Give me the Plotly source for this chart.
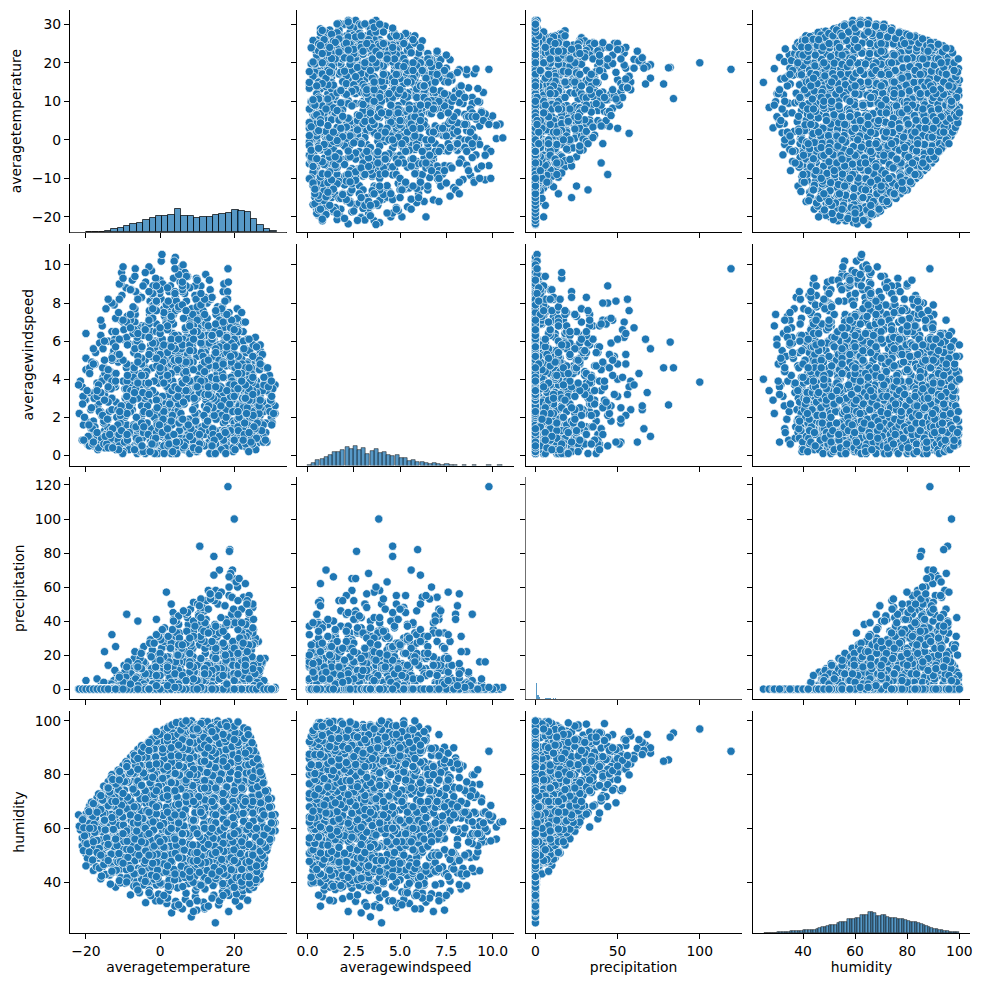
import plotly.graph_objects as go

# values, one line per humidity band (outliers in the middle block)
temperature = [
    14.9,8.4,3.1,18.5,12,5.5,21.4,15.8,1.8,9.9,
    -3.9,-1.2,1.5,4.2,6.8,9.5,11.7,14.2,16.4,18.6,20.3,22.1,23.6,-2.5,
    -8,-5.6,-2.9,-0.4,2.2,4.7,7,9.6,12.1,14.5,16.8,18.7,20.6,22.4,24.1,25.2,
    -12,-9.5,-7,-4.6,-2.1,0.3,2.8,5.1,7.6,9.9,12.4,14.7,17,19.1,21,22.8,24.6,26,
    -16,-13.6,-11.3,-9,-6.7,-4.4,-2.1,0.2,2.5,4.8,7.1,9.4,11.7,14,16.3,18.6,20.9,23.2,25.3,27,
    -18,-15.4,-13,-10.6,-8.2,-5.9,-3.5,-1.1,1.3,3.6,6,8.4,10.8,13.2,15.5,17.9,20.2,22.6,24.9,27,
    -19,-16.5,-14,-11.7,-9.2,-6.8,-4.3,-2,0.5,2.9,5.4,7.8,10.2,12.7,15.1,17.4,19.9,22.3,25,28,
    -20,-17.6,-15,-12.4,-9.9,-7.5,-5,-2.6,-0.1,2.4,4.8,7.3,9.7,12.2,14.6,17.1,19.5,22,25,28,
    -21,-18.4,-15.8,-13,-10.4,-7.9,-5.3,-2.7,-0.2,2.3,4.9,7.4,10,12.5,15,17.6,20.1,22.7,25.7,29,
    -21,-18.3,-15.6,-13,-10.3,-7.6,-4.9,-2.3,0.4,3.1,5.8,8.4,11,13.7,16.4,19,21.7,24.3,27,30,
    -21.5,-18.7,-16,-13.3,-10.6,-7.8,-5.1,-2.4,0.3,3,5.8,8.5,11.2,13.9,16.7,19.4,22.1,24.8,27.5,31,
    -20,-17.4,-14.7,-12,-9.4,-6.7,-4,-1.3,1.4,4.1,6.8,9.5,12.2,14.9,17.6,20.3,23,25.7,28.4,31,
    -20,-17.3,-14.6,-11.9,-9.2,-6.5,-3.9,-1.2,1.5,4.2,6.9,9.6,12.3,15,17.7,20.4,23.1,25.8,28.5,31,
    -19,-16.3,-13.7,-11,-8.3,-5.7,-3,-0.4,2.3,4.9,7.6,10.3,12.9,15.6,18.2,20.9,23.5,26.2,28.3,30,
    -17,-14.4,-11.8,-9.2,-6.6,-4,-1.4,1.2,3.8,6.4,9,11.6,14.2,16.8,19.4,22,24.6,26.5,28.2,30,
    -15,-12.5,-10,-7.5,-5.1,-2.6,-0.1,2.4,4.9,7.3,9.8,12.3,14.8,17.2,19.7,22.2,24.7,26,27.5,29,
    -14,-11.6,-9.2,-6.8,-4.4,-2,0.4,2.8,5.2,7.6,10,12.4,14.8,17.2,19.6,22,24.4,25.7,27,28,
    -12,-9.7,-7.4,-5.1,-2.8,-0.5,1.8,4.1,6.4,8.7,11,13.3,15.6,17.9,20.2,22.5,24.2,25.2,26.2,27,
    -10,-7.8,-5.6,-3.4,-1.2,1,3.2,5.4,7.6,9.8,12,14.2,16.4,18.6,20.8,22.6,24,25,26,27,
    -8,-6,-4,-2,0,2,4.1,6.2,8.3,10.4,12.5,14.6,16.7,18.8,20.9,22.4,23.6,24.6,25.4,26,
    -6,-4,-2.1,-0.2,1.7,3.6,5.5,7.4,9.3,11.2,13.1,15,16.9,18.8,20.7,22,23,24,24.6,25,
    -3,-1.4,0.2,1.8,3.4,5,6.6,8.2,9.8,11.4,13,14.6,16.2,17.8,19.4,21,22.6,24,
    0,1.5,3,4.5,6,7.5,9,10.5,12,13.5,15,16.5,18,19.5,21,22.5,
    4,5.5,7,8.5,10,11.5,13,14.5,15.5,16.5,17.5,18.5,
    18.3,20,10.7,18.8,18.7,14.5,16,14.5,19.5,19.8,20.5,19,18.6,25,24,23.5,15,12.5,9,11,
    3,1.7,3.5,-1,-6,-9,-12,-13,-15,-14,-17,-20,-22,0.5,3.8,-10,
    -10.7,-8.6,-7.1,-5,-3.3,-1,0.9,2.4,4.7,6.1,8.5,10.4,12,14.3,15.7,18,19.5,21.8,23.3,25.6,
    -14.7,-12.3,-10.6,-8,-6.2,-3.6,-1.9,0.7,2.5,5.1,6.8,9.4,11.2,13.8,15.5,18.1,19.9,22.5,24.2,26.8,
    -17.2,-14.6,-12.7,-9.8,-7.9,-5,-3.1,-0.2,1.7,4.6,6.5,9.4,11.3,14.2,16.1,19,20.9,23.8,25.7,27.9,
    -19.6,-16.8,-14.9,-11.8,-9.8,-6.8,-4.8,-1.8,0.2,3.2,5.2,8.2,10.2,13.2,15.2,18.2,20.2,23.2,25.2,28.2,
    -20.7,-17.7,-15.6,-12.5,-10.4,-7.3,-5.2,-2.1,0,3.1,5.2,8.3,10.4,13.5,15.6,18.7,20.8,23.9,26,28.8,
    -20.2,-18,-15,-12.8,-9.8,-7.6,-4.6,-2.4,0.6,2.8,5.8,8,11,13.2,16.2,18.4,21.4,23.6,26.6,29.4,
    -19.8,-17,-14.2,-12.4,-9.6,-6.8,-5,-2.2,0.6,2.4,5.2,8,9.8,12.6,15.4,17.2,20,22.8,26,29.8,
    -21.8,-19,-16.8,-14,-11.2,-9,-6.2,-3.4,-1.2,1.6,4.4,6.6,9.4,12.2,14.4,17.2,20,22.2,25,30.2,
    -20.8,-18.6,-15.4,-13.2,-10,-7.8,-4.6,-2.4,0.8,3,6.2,8.4,11.6,13.8,17,19.2,22.4,24.6,27.8,30.4,
    -19.4,-16.7,-14.9,-12.2,-9.5,-7.7,-5,-2.3,-0.5,2.2,4.9,6.7,9.4,12.1,13.9,16.6,19.3,21.1,24.3,27,
    -18.5,-16,-13.4,-10.8,-8.9,-6.4,-3.8,-1.9,0.7,3.3,5.2,7.8,10.4,12.3,14.9,17.5,19.4,22.6,24.5,27.8,
    -16.6,-14,-12.2,-9.6,-7,-5.2,-2.6,0,1.8,4.4,7,8.8,11.4,14,15.8,18.4,21,22.8,25.4,28.8,
    -15.2,-12.8,-11,-8.6,-6.2,-4.4,-2,0.4,2.2,4.6,7,8.8,11.2,13.6,15.4,17.8,20.2,22,24.4,27,
    -13.2,-10.9,-9.1,-6.8,-4.5,-2.7,-0.4,1.9,3.7,6,8.3,10.1,12.4,14.7,16.5,18.8,21.1,22.9,25.2,27.6,
    -11.3,-9,-7.2,-5,-2.8,-1,1.2,3.4,5.2,7.4,9.6,11.4,13.6,15.8,17.6,19.8,22,23.8,25.8,26.8,
    -9.2,-7,-5.4,-3.2,-1,0.6,2.8,5,6.6,8.8,11,12.6,14.8,17,18.6,20.8,22.2,23.4,24.8,26.4,
    -7.2,-5.1,-3.6,-1.5,0.6,2.1,4.2,6.3,7.8,9.9,12,13.5,15.6,17.7,19.2,21.3,22.8,23.8,25,25.8,
    -5,-3.2,-1.6,0.2,2,3.6,5.4,7.2,8.8,10.6,12.4,14,15.8,17.6,19.2,21,22.2,23.2,24.2,25.2,
    -1.8,-0.4,1,2.4,3.8,5.2,6.6,8,9.4,10.8,12.2,13.6,15,16.4,17.8,19.2,20.6,22,23.4,24.4,
    1,2.2,3.4,4.6,5.8,7,8.2,9.4,10.6,11.8,13,14.2,15.4,16.6,17.8,19,20.2,21.4,22.6,23.6,
    -13.4,-11,-8.3,-6.4,-4,-1.6,0,2.2,3.9,6.7,8.9,11,13,15,16.9,19.3,20.5,22.2,24.1,25.9,
    -15.8,-13,-11.8,-8.9,-6.5,-4.9,-2.3,-0.6,1.6,3.7,6.2,8,10.6,12.7,15.1,17.2,19.2,21.6,23.5,26.1,
    -16.4,-15.2,-11.4,-9.1,-8.4,-4.2,-2.2,-0.7,1,3,5.7,7.4,9.9,12.3,14.6,16.8,19.6,22,24.5,27.2,
    -18.2,-15.7,-13.2,-10.7,-8.7,-5.7,-3.7,-0.9,1.1,4.1,6.1,8.9,11.1,14.1,16.6,19.1,21.6,24.1,26.6,27.6,
    -19.1,-16.4,-14.2,-11.1,-9,-6,-3.9,-0.8,1.3,4.4,6.5,9.4,11.9,14.7,17.2,19.9,22.4,24.9,27,28.5,
    -19.7,-17,-14.4,-11.6,-8.9,-6.8,-4,-1.6,1.1,3.8,6,8.8,11.5,14.3,17,19.6,22.2,24.9,27.6,29.6,
    -20.4,-17.6,-14.8,-11.9,-9.1,-6.3,-3.5,-0.6,2.2,5,7.8,10.6,13.4,16.2,19,21.2,23.4,25.8,28,30.1,
    -20.6,-17.8,-15.2,-12.6,-9.9,-7.2,-4.4,-1.7,1,3.7,6.4,9.1,11.8,14.5,17.3,19.9,22.5,25.2,27.8,30.6,
    -20.9,-18.2,-15.5,-12.8,-10.1,-7.3,-4.7,-1.9,0.8,3.5,6.2,8.9,11.6,14.3,17,19.7,22.4,25.1,27.2,30.1,
    -19.2,-16.6,-14,-11.4,-8.8,-6.2,-3.6,-1,1.6,4.2,6.8,9.4,12,14.6,17.2,19.8,22.4,25,27.6,29.5,
    -18,-15.5,-13,-10.4,-7.9,-5.4,-2.9,-0.4,2.1,4.6,7.1,9.6,12.1,14.6,17.1,19.6,22.1,24.6,27.1,29.2,
    -16,-13.6,-11.2,-8.8,-6.4,-4,-1.6,0.8,3.2,5.6,8,10.4,12.8,15.2,17.6,20,22.4,24.8,26.7,28.4,
    -14.2,-11.9,-9.6,-7.3,-5,-2.7,-0.4,1.9,4.2,6.5,8.8,11.1,13.4,15.7,18,20.3,22.6,24.9,26.3,27.8,
    -12.8,-10.5,-8.3,-6,-3.8,-1.5,0.7,3,5.2,7.5,9.7,12,14.2,16.5,18.7,21,23.2,24.8,26,27.4,
    -10.9,-8.8,-6.6,-4.5,-2.3,-0.2,2,4.1,6.3,8.4,10.6,12.7,14.9,17,19.2,21.3,23.1,24.4,25.6,26.7,
    -8.9,-6.9,-4.9,-2.9,-0.9,1.1,3.1,5.1,7.1,9.1,11.1,13.1,15.1,17.1,19.1,21.1,22.9,23.9,25.1,26.2,
    -6.9,-5,-3.1,-1.2,0.7,2.6,4.5,6.4,8.3,10.2,12.1,14,15.9,17.8,19.7,21.5,22.7,23.5,24.5,25.3,
    -4.4,-2.7,-1,0.7,2.4,4.1,5.8,7.5,9.2,10.9,12.6,14.3,16,17.7,19.4,21.1,22.4,23.3,24,24.8,
    -2.2,-0.8,0.6,2,3.4,4.8,6.2,7.6,9,10.4,11.8,13.2,14.6,16,17.4,18.8,20.2,21.6,22.8,23.8,
    2,3.2,4.4,5.6,6.8,8,9.2,10.4,11.6,12.8,14,15.2,16.4,17.6,18.8,20,21,8.7,13.7,6.1,
    -6,-3,0,2,4,6,8,10,12,14,16,18,20,22,-9,1,5,9,13,17,
    -13,-10,-7,-4,-1,2,5,8,11,14,17,20,23,26,-15,-8,-2,4,10,16,
    -17,-14,-11,-8,-5,-2,1,4,7,10,13,16,19,22,25,-12,-3,6,15,24,
    -18,-15,-12,-9,-6,-3,0,3,6,9,12,15,18,21,24,-13,-4,5,11,20,
    -16,-13,-10,-7,-4,-1,2,5,8,11,14,17,20,23,-11,-2,7,13,19,25,
    -14,-11,-8,-5,-2,1,4,7,10,13,16,19,22,25,-6,3,9,15,21,27,
    -9,-6,-3,0,3,6,9,12,15,18,21,24,-1,5,11,17,23,2,8,14,
    -3,0,3,6,9,12,15,18,21,-1,5,11,17,2,8,14,20,7,13,10,
    -20,-19,-18,-17,-16,-15,-14,-12,-10,-8,24,25,26,27,28,29,30,23,22,21,
    0,3,6,9,12,15,18,-3,-6,2,7,11,14,17,20,5,10,-1,4,8,
]
windspeed = [
    4.0,3.4,2.9,2.2,6.1,4.8,0.7,3.7,5.5,7.4,
    3.1,1.4,7.3,2.6,5.2,0.8,6.4,3.9,1.9,7.1,4.4,2.3,1.2,5.8,
    2.7,5.9,0.9,4.2,7.7,1.8,6.2,3.3,8.3,0.6,5.1,2.4,6.7,3.7,1.5,4.7,
    1.2,3.5,0.5,6.3,2.1,8.2,4.6,1.1,7.2,3,5.6,0.4,8.6,2.6,6.1,4,1.7,3.3,
    2.3,0.8,4.9,1.6,7.4,3.2,0.4,9,5.4,2,8.1,0.9,6.3,3.7,1.3,7.5,4.3,2.7,5.1,1.1,
    1.8,4.1,0.6,7.1,2.4,8.4,0.3,5.6,3.1,9.3,1.4,6.6,4.2,0.7,7.8,2.9,5.3,1.2,3.8,2.1,
    3.3,0.9,6,2,8.8,1.1,4.7,7.6,0.2,3.6,9.1,5.5,2.2,8,1,6.9,3.4,0.5,4.5,2.8,
    5.1,1.5,3.2,7.9,0.7,9.2,2.6,6.4,1.2,8.6,4.4,0.4,7,3,5.9,1.7,6.8,2.3,4.9,0.9,
    0.8,4.9,2.1,6.5,9.6,1.3,3.5,8.1,0.5,5.8,2.9,9.4,0.2,7.2,4,1.8,6.1,3.2,5.2,2.4,
    3.6,1,6.8,0.5,8.4,2.7,5,9.7,1.6,7.4,3.9,0.3,8.9,4.7,2.2,6.2,0.8,5.5,3,1.9,
    3.9,2.4,6.3,1.1,9,0.4,4.3,7.5,10.2,2,5.3,0.7,8.2,3.4,6.9,1.4,4.8,0.9,3.7,2.6,
    1.8,5.4,0.6,7.2,3,9.8,1.3,6,0.2,10.4,4,8.3,2.5,5.7,0.8,7,3.6,1.5,4.6,2.2,
    4.5,1,7.7,2.8,0.4,5.8,9.1,3.2,7.9,0.7,6.6,1.9,9.5,4.2,0.3,6.4,2.4,5,1.2,3.7,
    0.9,5.9,2.3,8.2,3.6,0.5,9.9,1.6,6.7,4.4,0.2,7.6,2.9,5.2,8.6,1.1,6.1,3.3,4.1,2,
    3,1.3,6.2,0.6,8.6,4.6,2.1,7.3,0.3,9.4,3.8,5.6,1,7.8,2.6,0.8,4.9,3.5,1.7,2.8,
    4,0.7,7,2.4,5.6,0.3,8.5,3.2,6.3,1.1,9.3,4.7,0.5,7.5,2.9,6,1.5,3.9,0.9,2.5,
    1.4,5.1,0.4,7.7,3.3,6.5,1,8.9,2.3,5.3,0.2,7.1,3.7,9,1.8,4.4,0.6,6.2,2.7,3.5,
    3.6,0.9,5.8,1.9,7.4,0.3,4.5,8.3,2.8,6.4,0.6,9.2,3.1,5,1.3,7,2.1,4,0.8,5.5,
    0.5,4.2,1.7,6.6,0.3,7.7,3.4,5.4,1.1,8.4,2.6,6.3,0.8,4.8,7.2,1.5,3.7,5.2,0.6,2.3,
    2.3,0.7,5,3.4,0.3,7,1.8,6.1,0.5,8,4.1,2.5,5.7,0.9,6.7,3,1.4,4.6,0.4,2,
    1.2,3.9,0.5,6,2.2,7.4,0.9,4.7,3,6.8,1.5,5.3,0.3,3.5,5.9,2.6,0.7,4.3,1.8,3.2,
    2.8,0.6,5.2,1.7,6.4,0.3,3.6,7.1,1.2,4.8,2.4,5.8,0.8,3.3,6.2,1.5,4.2,2.1,
    1.9,0.7,4.3,2.7,5.6,0.4,3.4,6,1.1,4.9,2.2,5.3,0.8,3.7,1.5,2.9,
    2.1,4.4,0.9,5.8,3,1.4,3.8,0.6,5.2,2.5,4.1,1.1,
    9.8,3.85,4.6,5.95,2.65,4.6,5.6,6.1,1.0,2.4,4.3,3.3,1.4,3.1,2.1,0.7,3.9,1.7,0.6,5.2,
    4.0,3.6,2.2,8.0,1.4,2.6,0.9,3.0,1.3,1.9,3.5,2.9,3.7,10.55,10.2,9.9,
    2.5,0.4,5.4,3.2,1.1,6.9,2.2,4.8,0.7,3.5,7.7,1.5,5.9,2.8,0.3,6.3,4.1,1.9,3,0.9,
    1.1,3.7,0.6,2.7,5.7,1.7,8.4,4.2,0.5,3,6.7,2.1,7.9,1,5,3.4,1.4,6,2.5,4.5,
    3.4,1.1,5.3,0.8,2.9,6.8,4.5,0.5,7.9,2.3,3.8,8.9,1.5,6,2.7,0.4,4.9,3.1,1.7,2.3,
    0.6,2.6,4.3,1.4,6.6,3.7,0.9,8.5,2.1,5.1,0.3,3.3,7,1.3,4.6,8.2,2.4,5.6,1.8,3.8,
    1.6,3.3,0.9,5.5,2.5,7.8,0.5,4.6,9.2,1.9,3.5,6.2,0.3,8.7,2.8,5.1,1.2,4.3,3,0.7,
    2.9,0.5,4.6,1.2,6.1,3.6,8.9,0.8,5.5,2.3,9.9,1.7,7.1,3.9,0.4,6,2.7,4.9,1.4,3.3,
    0.7,3.8,1.5,5.2,2.6,9.4,0.5,7.3,3.1,1.2,5.9,8.8,0.2,4.5,2.2,6.7,1.7,3.5,5.1,2.9,
    2.2,4.6,0.3,3.5,7.5,1.6,6,2.6,9.3,0.6,4.4,8.5,1.2,5.4,3,7.4,0.9,2.4,4.2,1.7,
    3.1,1.4,5.6,0.9,3.9,8.7,2.2,6.5,0.4,4.8,10,1.9,7.6,3.3,0.6,5.7,2.7,4.3,1,3.5,
    1,3.2,0.4,6.1,2,4.7,8.3,1.4,5.3,3.5,0.7,9.6,2.6,6.8,4.1,0.3,7.1,1.8,3,2.4,
    2.5,0.6,4.4,1.7,7.3,3.1,0.3,5.9,9,2.1,4.9,0.8,6.9,3.6,1.3,8.1,2.9,5.5,1,3.7,
    0.4,2.8,5.2,1.1,3.9,6.7,0.7,8.7,2.4,4.5,1.5,7.4,3.2,0.3,5.8,9.1,1.9,4.1,2.6,3.4,
    1.7,4.1,0.8,3,6.2,1.2,7.9,2.7,0.5,5.4,8.9,3.6,1.3,6.6,2.2,4.7,0.4,5.1,1.9,3.2,
    3.5,0.5,2.3,5.6,1.2,7.1,3.8,0.3,4.9,8.6,1.6,6.1,2.9,0.7,7.6,3.3,4.5,1.1,2.5,5.3,
    0.8,3.1,1.6,4.8,0.4,6.5,2.7,7.9,1.3,5.3,3.6,0.6,8.2,2.2,6.3,4.2,1,3,0.3,5,
    2.1,4.4,0.6,3.3,5.9,1.1,7.4,2.8,0.3,6.8,4.1,1.7,5.4,0.7,3.7,7.7,2.4,4.8,1.4,3,
    1.5,0.4,3.7,2.3,6.1,0.9,4.6,7.2,1.9,5.2,0.5,3.2,6.6,1.1,4,2.6,5.6,0.7,3.4,2,
    3.3,1.1,5.1,0.3,2.5,6.9,1.7,4.2,5.9,0.7,3.6,2,6.4,1.3,4.7,0.5,3,5.4,1.9,2.7,
    0.9,2.9,4.5,1.3,5.7,3.2,0.4,6,2.2,4.1,1.6,5,0.6,3.6,2.4,4.8,1,3.8,1.8,2.6,
    2.4,1,3.9,0.5,4.7,1.8,5.5,2.9,0.8,3.4,5.1,1.4,4.3,2.1,0.6,3.1,4.6,1.2,2.7,1.6,
    1.3,0.5,2.6,0.9,3.8,2,0.2,1.4,5,3.1,0.7,6,2.4,1,4.1,0.3,3.3,1.8,5.5,2.7,
    0.9,2.4,0.3,3.9,1.5,5.7,0.6,2.9,7,1.1,4.4,0.2,3.3,6.3,1.9,0.7,4.9,2.2,1.3,3.6,
    2.8,0.6,1.6,4.6,0.3,3,7.3,1.2,2.3,0.1,5.6,3.6,0.8,6.9,2.1,4.3,1.4,0.5,3.2,2.5,
    1.4,3.9,0.4,2.1,5.9,0.8,3.1,1.7,6.7,0.1,2.7,4.9,0.6,3.6,7.7,1.2,2.2,4.1,0.9,3.4,
    0.5,2.3,4.1,1.1,6.2,3,0.2,1.6,5,8.1,2.7,0.7,3.7,6.5,1.3,0.3,4.5,2,5.8,1.7,
    3.4,1.2,0.6,5.3,2.2,7,0.1,3.9,1.5,6,8.7,0.8,4.3,2.5,0.4,5.4,3,1.1,4.7,2.3,
    2,4.8,1,0.3,3.5,6.6,1.7,0.1,8.1,2.7,5,0.6,3.2,7.1,1.3,4.2,0.4,2.4,3.7,1.6,
    0.8,3,1.8,5.9,0.2,4.1,2.3,7.9,0.5,3.6,9.3,1.2,5.2,0.1,2.9,6.5,1.5,4,0.7,2.2,
    2.7,0.6,4.6,1.4,0.1,6.4,3.3,8.9,1.9,5.5,0.4,3.9,7.3,1.1,4.9,0.2,2.5,5.8,1.7,3.1,
    1.6,3.7,0.4,2.4,5.8,0.1,4.4,1.2,6.9,3,0.7,8.4,2,5.2,0.3,3.5,6.5,1,2.8,4.2,
    0.7,2.1,5,1.3,3.4,0.2,7.6,2.6,0.5,4.5,9.4,1.8,3.1,0.1,6.3,2.3,4.8,0.9,1.5,3.6,
    3.1,1.1,0.3,4.2,2,6.8,0.6,5.1,1.6,3.4,0.1,7.9,2.5,4.6,0.4,6.1,1.3,3.8,2.2,0.8,
    1.9,4.3,0.7,2.9,0.2,5.5,1.4,3.6,7.6,0.5,2.4,6.2,0.1,4.8,1.1,3.2,5.6,0.6,2.7,1.6,
    0.4,2.6,1.2,3.9,6.6,0.1,4.9,1.8,0.7,3,8.2,2.1,5.8,0.3,3.5,1.5,4.4,2.3,0.9,1.3,
    2.3,0.8,3.5,0.2,5.2,1.6,6.8,0.4,2.8,4.6,1.1,7.2,0.1,3.3,5.9,2,0.6,3.9,1.4,2.6,
    1.1,3.3,0.5,2.2,4.7,0.1,6.1,1.7,3.7,0.4,5.4,2.6,7.4,0.8,4.1,1.3,3,0.2,2.1,1.7,
    0.3,1.7,3.8,0.9,5.7,2.7,0.1,4.3,1.4,6.7,3.2,0.6,5,2,0.4,3.6,1.1,2.5,0.7,1.5,
    1.5,0.2,2.9,4.1,0.6,5.6,1.9,3.4,0.3,6.3,2.4,4.7,1,0.1,3.9,5.2,0.8,2.2,1.2,2.9,
    0.6,2.5,1.2,4,0.2,3.1,5,1.6,0.4,4.4,2.1,5.9,0.8,3.5,1.3,2.7,0.3,4.2,1.7,3.3,
    1.4,3.4,0.7,2.2,4.8,1,3,0.3,5.2,1.8,0.5,4,2.6,1.2,3.7,0.8,2.3,5.7,3.1,1.9,
    3.8,5.3,4.4,6.6,3.6,5.8,4.9,7.1,3.9,6.2,4.6,5.4,3.4,4.1,4.8,7.5,5.1,6.8,3.2,5.9,
    3.9,5,6.6,4.2,7.6,5.5,3.5,6.9,4.6,8.3,5.8,3.7,4.6,3.3,2.9,7.1,5.9,8.6,4,6.4,
    3.1,4.5,6.1,7.4,5.1,8.5,3.8,6.3,4.9,7.8,3.6,5.7,6.7,4.3,3.4,5.7,6.9,8.9,4.7,2.9,
    4.8,6,3.9,7,5.2,8.6,6.4,4.3,9.1,5.5,7.4,3.6,6.2,4.7,3.5,8,9.6,7.7,5.9,5.3,
    3.3,5.1,7.1,4.6,6.6,8.9,5.4,7.8,3.9,6.3,8.3,4.9,5.7,3.7,9,7.2,4.4,6.8,3.1,4.1,
    3.6,5.3,6.7,4.2,7.7,5.8,8.5,3.4,6.5,4.7,7.1,5.2,3.9,3.2,8.2,6.1,4.5,5.6,6.6,2.9,
    3.1,4.9,6.2,5.3,7.1,3.8,6.5,4.4,7.6,5.7,3.5,4.6,8.1,5,7.9,4.1,3,6.8,5.8,6.1,
    3.2,4.6,5.7,3.8,6.5,4.9,5.4,3.4,4.3,5.1,6.1,3.9,4.8,4.2,5.5,6.3,3.1,4,5,3.6,
    6.4,4.3,5.6,3.4,7.1,5,8.2,6.5,9.3,8.7,6.1,5.2,5.7,4.8,4.1,4.6,3.9,7,7.5,6.5,
    6.7,7.3,7.9,6.1,8.2,6.9,7.4,7.1,6.4,8.8,7.6,8.5,6.3,7,6.6,9.5,9.2,8.1,9.8,6.8,
]
precipitation = [
    0,0,0,0,0,0,0,0,0,0,
    0,0,0,0,0,0,0,0,0,0,0,0,0,0,
    0,0,0,0,0,0,0,0,0,0,0,0,0,0,0,0,
    0,0,0,0,0,0.5,0,0,0,0,0,0,0,0,0,0.4,0,0,
    0,0,0,0,0,0,0,0,1,0,0,0,0,1,0,0,0,0,0,0,
    0,0,0,0,0,0,1,0,0,0,3,0,2,0,0,10,0,1,0,0,
    0,0,0,0,0,2,0,0,0,6,0,1,9,0,0,4,0,12,0,0,
    0,0,0,0,0,0,5,0,3,0,8,0,12,0,6,0,15,2,0,1,
    0,0,0,0,0,2,0,0,7,0,11,0,0,16,5,0,18,0,9,0,
    0,0,0,0,0,6,0,0,13,0,4,20,0,9,0,19,3,0,12,0,
    0,0,0,0,0,8,0,3,0,15,0,22,0,11,0,26,7,0,15,0,
    0,0,0,0,4,0,0,14,0,0,19,0,6,24,0,28,0,12,2,0,
    0,0,0,6,0,0,2,12,0,23,0,9,0,30,16,0,5,27,0,1,
    0,0,3,0,11,0,0,18,0,30,0,13,36,0,22,40,0,8,18,0,
    0,0,0,8,0,15,0,25,0,0,34,0,17,0,41,12,0,28,0,0,
    0,5,0,13,0,20,0,10,28,0,2,36,0,19,42,0,31,0,16,1,
    0,9,0,0,16,0,24,0,33,8,0,41,14,0,46,22,0,30,4,0,
    0,14,0,7,0,21,0,31,0,12,39,0,50,25,0,54,0,35,10,0,
    6,0,20,0,0,28,0,13,38,0,46,0,23,55,0,34,0,48,0,12,
    0,17,0,26,0,9,37,0,21,44,0,52,15,0,60,0,40,0,27,5,
    12,0,23,0,30,0,18,42,0,35,0,55,0,24,46,0,62,11,0,33,
    10,0,29,0,18,38,0,47,0,27,58,0,36,0,54,20,0,44,
    0,16,0,33,0,22,40,0,12,0,26,0,38,0,19,0,
    0,6,0,0,9,0,4,0,0,7,0,2,
    119,100,84,82,81,78,70,67,70,65,63,68,66,50,55,52,58,52,51,46,
    50,57,45,41,40,44,25,32,22,14,6,5,0,1,1,0,
    0,0,0,0,0,0,0,0,0,0,0,0,0,0,0,0,0,0,0,0,
    0,0,0,0,0,0,0,0,0,0,0,0,0,1,0,0,0,0,0,0,
    0,0,0,0,0,0,0,0,2,0,0,0,4,0,0,1,0,0,0,0,
    0,0,0,0,0,1,0,0,4,0,9,0,0,6,0,11,0,3,0,0,
    0,0,0,0,0,0,3,0,0,7,0,12,0,4,0,14,0,9,0,0,
    0,0,0,0,1,0,0,8,0,12,0,5,17,0,9,0,21,0,7,0,
    0,0,0,0,0,3,0,11,0,6,19,0,14,0,24,0,10,0,2,0,
    0,0,0,0,6,0,0,2,16,0,25,0,10,21,0,33,0,14,0,0,
    0,0,0,3,0,9,0,19,0,27,0,7,32,0,15,38,0,23,0,0,
    0,0,0,0,10,0,22,0,5,31,0,16,0,39,0,26,44,0,9,0,
    0,2,0,7,0,14,0,27,0,35,8,0,43,0,20,49,0,28,0,0,
    0,0,11,0,18,0,29,0,13,40,0,24,48,0,33,0,52,0,16,0,
    4,0,0,16,0,25,0,34,0,10,44,0,29,53,0,37,0,47,6,0,
    0,8,0,22,0,12,31,0,41,0,19,50,0,35,57,0,24,0,41,3,
    0,13,0,5,27,0,36,0,16,45,0,30,56,0,21,47,0,33,0,10,
    7,0,18,0,32,0,24,43,0,14,53,0,38,0,60,0,29,50,0,15,
    0,21,0,9,35,0,15,46,0,30,0,56,0,41,0,65,19,0,36,0,
    12,0,27,0,16,40,0,34,0,49,8,0,55,0,23,44,0,31,0,6,
    0,9,0,19,0,30,0,14,37,0,5,25,0,42,0,17,0,33,0,3,
    0,4,0,13,0,22,0,8,26,0,15,0,31,0,11,0,24,0,6,0,
    0,0,0,0,0,0,0,0,0,0,0,0,0,0,0,0,0,0,0,0,
    0,0,0,0,0,0,0,0,0,1,0,0,0,0,0,0,0,0,0,0,
    0,0,0,0,0,0,0,1,0,0,2,0,0,3,0,0,1,0,0,0,
    0,0,0,0,0,0,2,0,0,5,0,3,0,0,7,0,1,0,0,0,
    0,0,0,0,0,1,0,4,0,0,6,0,9,0,2,0,12,0,3,0,
    0,0,0,0,0,0,5,0,2,0,10,0,0,7,0,14,0,4,0,0,
    0,0,0,0,2,0,0,6,0,11,0,3,15,0,8,0,17,0,5,0,
    0,0,0,0,0,4,0,1,12,0,0,7,0,18,0,9,0,14,0,0,
    0,0,0,1,0,0,7,0,0,13,0,19,5,0,10,22,0,3,0,0,
    0,0,0,0,3,0,0,9,0,16,0,2,0,21,12,0,25,6,0,0,
    0,0,0,4,0,0,10,0,17,0,6,0,24,13,0,28,0,9,0,0,
    0,0,2,0,7,0,13,0,0,20,0,5,27,0,16,0,30,0,11,0,
    0,0,0,5,0,11,0,18,0,3,24,0,14,0,31,0,8,26,0,0,
    0,3,0,0,9,0,15,0,22,0,6,28,0,12,0,35,0,19,0,1,
    0,0,6,0,12,0,19,0,4,25,0,14,32,0,21,0,38,0,9,0,
    1,0,0,9,0,16,0,23,0,7,29,0,18,36,0,13,0,26,0,4,
    0,4,0,13,0,7,20,0,27,0,11,34,0,17,0,30,0,22,0,2,
    3,0,8,0,16,0,24,0,10,31,0,19,0,37,0,14,27,0,6,0,
    0,6,0,11,0,20,0,28,0,15,34,0,9,0,25,0,39,0,13,0,
    0,2,0,5,0,10,0,15,0,8,0,12,0,20,0,6,0,16,0,4,
    0,0,0,0,0,0,0,0,0,0,0,0,0,0,0,0,0,0,0,0,
    0,0,0,1,0,0,3,0,0,2,0,5,0,0,0,0,0,4,0,8,
    0,0,0,0,0,3,0,9,0,14,0,6,0,17,0,0,0,5,0,0,
    0,0,0,0,2,0,8,0,0,13,0,22,0,9,0,0,0,3,18,0,
    0,0,4,0,9,0,14,0,21,0,11,27,0,17,0,0,6,33,0,12,
    0,7,0,12,0,19,0,27,0,9,33,0,39,0,15,0,4,24,0,18,
    0,13,0,21,0,8,31,0,18,39,0,45,0,26,0,34,11,0,16,28,
    0,17,0,26,0,12,37,0,20,8,0,42,0,13,30,0,24,0,47,5,
    0,0,0,0,0,0,0,0,0,3,0,0,0,2,0,0,0,14,0,21,
    0,4,0,6,9,0,3,0,0,2,5,1,0,8,0,1,0,2,1,14,
]
humidity = [
    24.8,27,28.5,29,30,30.5,31,31.5,32,29.5,
    32.3,33,34,32.8,33.5,34.5,32.5,34.2,33.8,35,32.9,34.7,33.2,34.9,
    35.2,36,37,35.5,36.6,37.8,35.8,36.9,37.4,35.1,36.3,37.7,35.6,36.8,37.2,38,
    38.1,39.6,40.7,38.9,40.1,39,38.4,40.9,39.4,38.2,40.4,39.8,38.6,41,39.2,40.2,38.8,39.9,
    41.2,42.6,43.7,41.9,43.1,42,41.4,43.9,42.4,41.2,43.4,42.8,41.6,44,42.2,43.2,41.8,42.9,43.5,41.1,
    44.3,45.8,46.7,44.9,46.1,45.1,44.4,46.9,45.4,44.2,46.4,45.8,44.7,47,45.2,46.2,44.8,45.9,46.5,44.1,
    47.4,48.9,49.7,47.9,49.1,48.2,47.5,49.9,48.5,47.2,49.4,48.8,47.7,50,48.2,49.2,47.8,48.9,49.5,47.1,
    50.4,51.9,52.7,50.9,52.1,51.2,50.5,52.9,51.5,50.2,52.4,51.8,50.7,53,51.2,52.2,50.8,51.9,52.5,50.1,
    53.4,54.9,55.7,53.9,55.1,54.2,53.5,55.9,54.5,53.2,55.4,54.8,53.7,56,54.2,55.2,53.8,54.9,55.5,53.1,
    56.4,57.9,58.7,56.9,58.1,57.2,56.5,58.9,57.5,56.2,58.4,57.8,56.7,59,57.2,58.2,56.8,57.9,58.5,56.1,
    59.4,60.9,61.7,59.9,61.1,60.2,59.5,61.9,60.5,59.2,61.4,60.8,59.7,62,60.2,61.2,59.8,60.9,61.5,59.1,
    62.4,63.9,64.7,62.9,64.1,63.2,62.5,64.9,63.5,62.2,64.4,63.8,62.7,65,63.2,64.2,62.8,63.9,64.5,62.1,
    65.4,66.9,67.7,65.9,67.1,66.2,65.5,67.9,66.5,65.2,67.4,66.8,65.7,68,66.2,67.2,65.8,66.9,67.5,65.1,
    68.4,69.9,70.7,68.9,70.1,69.2,68.5,70.9,69.5,68.2,70.4,69.8,68.7,71,69.2,70.2,68.8,69.9,70.5,68.1,
    71.4,72.9,73.7,71.9,73.1,72.2,71.5,73.9,72.5,71.2,73.4,72.8,71.7,74,72.2,73.2,71.8,72.9,73.5,71.1,
    74.4,75.9,76.7,74.9,76.1,75.2,74.5,76.9,75.5,74.2,76.4,75.8,74.7,77,75.2,76.2,74.8,75.9,76.5,74.1,
    77.4,78.9,79.7,77.9,79.1,78.2,77.5,79.9,78.5,77.2,79.4,78.8,77.7,80,78.2,79.2,77.8,78.9,79.5,77.1,
    80.4,81.9,82.7,80.9,82.1,81.2,80.5,82.9,81.5,80.2,82.4,81.8,80.7,83,81.2,82.2,80.8,81.9,82.5,80.1,
    83.4,84.9,85.7,83.9,85.1,84.2,83.5,85.9,84.5,83.2,85.4,84.8,83.7,86,84.2,85.2,83.8,84.9,85.5,83.1,
    86.4,87.9,88.7,86.9,88.1,87.2,86.5,88.9,87.5,86.2,88.4,87.8,86.7,89,87.2,88.2,86.8,87.9,88.5,86.1,
    89.4,90.9,91.7,89.9,91.1,90.2,89.5,91.9,90.5,89.2,91.4,90.8,89.7,92,90.2,91.2,89.8,90.9,91.5,89.1,
    92.3,93.6,94.7,92.9,94.1,93.2,92.5,94.9,93.5,92.2,94.4,93.8,92.7,95,93.2,94.2,92.8,93.9,
    95.2,96.4,97.7,95.9,97.1,96.2,95.5,97.9,96.5,95.2,97.4,96.8,95.7,98,96.2,97.2,
    98.3,99.6,99,100,98.6,99.8,98.2,99.4,100,98.8,99.2,99.7,
    88.7,97,95.5,94,85.5,85,88,91,90,92,93,95,89,88,82,85,84,87,90,83,
    86,96,80,85,84,82,78,80,75,72,66,62,65,62.5,56,63,
    39.7,40.8,38.5,41.2,40.1,38.9,39.3,40.6,41.5,38.3,40.3,39.1,41.8,38.7,40.9,39.5,41.1,38.2,40.4,39.8,
    42.8,43.9,41.6,44.2,43.1,41.9,42.3,43.6,44.5,41.3,43.3,42.1,44.8,41.7,43.9,42.5,44.1,41.2,43.4,42.7,
    45.7,46.8,44.5,47.2,46.1,44.9,45.3,46.6,47.5,44.3,46.3,45.1,47.8,44.7,46.9,45.5,47.1,44.2,46.4,45.8,
    48.8,49.9,47.6,50.2,49.1,47.9,48.3,49.6,50.5,47.3,49.3,48.1,50.8,47.7,49.9,48.5,50.1,47.2,49.4,48.7,
    51.7,52.8,50.5,53.2,52.1,50.9,51.3,52.6,53.5,50.3,52.3,51.1,53.8,50.7,52.9,51.5,53.1,50.2,52.4,51.8,
    54.8,55.9,53.6,56.2,55.1,53.9,54.3,55.6,56.5,53.3,55.3,54.1,56.8,53.7,55.9,54.5,56.1,53.2,55.4,54.7,
    57.7,58.8,56.5,59.2,58.1,56.9,57.3,58.6,59.5,56.3,58.3,57.1,59.8,56.7,58.9,57.5,59.1,56.2,58.4,57.8,
    60.8,61.9,59.6,62.2,61.1,59.9,60.3,61.6,62.5,59.3,61.3,60.1,62.8,59.7,61.9,60.5,62.1,59.2,61.4,60.7,
    63.7,64.8,62.5,65.2,64.1,62.9,63.3,64.6,65.5,62.3,64.3,63.1,65.8,62.7,64.9,63.5,65.1,62.2,64.4,63.8,
    66.8,67.9,65.6,68.2,67.1,65.9,66.3,67.6,68.5,65.3,67.3,66.1,68.8,65.7,67.9,66.5,68.1,65.2,67.4,66.7,
    69.7,70.8,68.5,71.2,70.1,68.9,69.3,70.6,71.5,68.3,70.3,69.1,71.8,68.7,70.9,69.5,71.1,68.2,70.4,69.8,
    72.8,73.9,71.6,74.2,73.1,71.9,72.3,73.6,74.5,71.3,73.3,72.1,74.8,71.7,73.9,72.5,74.1,71.2,73.4,72.7,
    75.7,76.8,74.5,77.2,76.1,74.9,75.3,76.6,77.5,74.3,76.3,75.1,77.8,74.7,76.9,75.5,77.1,74.2,76.4,75.8,
    78.8,79.9,77.6,80.2,79.1,77.9,78.3,79.6,80.5,77.3,79.3,78.1,80.8,77.7,79.9,78.5,80.1,77.2,79.4,78.7,
    81.7,82.8,80.5,83.2,82.1,80.9,81.3,82.6,83.5,80.3,82.3,81.1,83.8,80.7,82.9,81.5,83.1,80.2,82.4,81.8,
    84.8,85.9,83.6,86.2,85.1,83.9,84.3,85.6,86.5,83.3,85.3,84.1,86.8,83.7,85.9,84.5,86.1,83.2,85.4,84.7,
    87.7,88.8,86.5,89.2,88.1,86.9,87.3,88.6,89.5,86.3,88.3,87.1,89.8,86.7,88.9,87.5,89.1,86.2,88.4,87.8,
    90.8,91.9,89.6,92.2,91.1,89.9,90.3,91.6,92.5,89.3,91.3,90.1,92.8,89.7,91.9,90.5,92.1,89.2,91.4,90.7,
    93.7,94.8,92.5,95.2,94.1,92.9,93.3,94.6,95.5,92.3,94.3,93.1,95.8,92.7,94.9,93.5,95.1,92.2,94.4,93.8,
    96.8,97.9,95.6,98.2,97.1,95.9,96.3,97.6,98.5,95.3,97.3,96.1,98.8,95.7,97.9,96.5,98.1,95.2,97.4,96.7,
    39.2,40.5,41.4,38.6,40.2,41,39.6,38.4,40.8,41.7,39.9,38.8,40.6,41.3,39.4,40,41.6,38.7,39.5,40.9,
    42.2,43.5,44.4,41.6,43.2,44,42.6,41.4,43.8,44.7,42.9,41.8,43.6,44.3,42.4,43,44.6,41.7,42.5,43.9,
    45.2,46.5,47.4,44.6,46.2,47,45.6,44.4,46.8,47.7,45.9,44.8,46.6,47.3,45.4,46,47.6,44.7,45.5,46.9,
    48.2,49.5,50.4,47.6,49.2,50,48.6,47.4,49.8,50.7,48.9,47.8,49.6,50.3,48.4,49,50.6,47.7,48.5,49.9,
    51.2,52.5,53.4,50.6,52.2,53,51.6,50.4,52.8,53.7,51.9,50.8,52.6,53.3,51.4,52,53.6,50.7,51.5,52.9,
    54.2,55.5,56.4,53.6,55.2,56,54.6,53.4,55.8,56.7,54.9,53.8,55.6,56.3,54.4,55,56.6,53.7,54.5,55.9,
    57.2,58.5,59.4,56.6,58.2,59,57.6,56.4,58.8,59.7,57.9,56.8,58.6,59.3,57.4,58,59.6,56.7,57.5,58.9,
    60.2,61.5,62.4,59.6,61.2,62,60.6,59.4,61.8,62.7,60.9,59.8,61.6,62.3,60.4,61,62.6,59.7,60.5,61.9,
    63.2,64.5,65.4,62.6,64.2,65,63.6,62.4,64.8,65.7,63.9,62.8,64.6,65.3,63.4,64,65.6,62.7,63.5,64.9,
    66.2,67.5,68.4,65.6,67.2,68,66.6,65.4,67.8,68.7,66.9,65.8,67.6,68.3,66.4,67,68.6,65.7,66.5,67.9,
    69.2,70.5,71.4,68.6,70.2,71,69.6,68.4,70.8,71.7,69.9,68.8,70.6,71.3,69.4,70,71.6,68.7,69.5,70.9,
    72.2,73.5,74.4,71.6,73.2,74,72.6,71.4,73.8,74.7,72.9,71.8,73.6,74.3,72.4,73,74.6,71.7,72.5,73.9,
    75.2,76.5,77.4,74.6,76.2,77,75.6,74.4,76.8,77.7,75.9,74.8,76.6,77.3,75.4,76,77.6,74.7,75.5,76.9,
    78.2,79.5,80.4,77.6,79.2,80,78.6,77.4,79.8,80.7,78.9,77.8,79.6,80.3,78.4,79,80.6,77.7,78.5,79.9,
    81.2,82.5,83.4,80.6,82.2,83,81.6,80.4,82.8,83.7,81.9,80.8,82.6,83.3,81.4,82,83.6,80.7,81.5,82.9,
    84.2,85.5,86.4,83.6,85.2,86,84.6,83.4,85.8,86.7,84.9,83.8,85.6,86.3,84.4,85,86.6,83.7,84.5,85.9,
    87.2,88.5,89.4,86.6,88.2,89,87.6,86.4,88.8,89.7,87.9,86.8,88.6,89.3,87.4,88,89.6,86.7,87.5,88.9,
    90.2,91.5,92.4,89.6,91.2,92,90.6,89.4,91.8,92.7,90.9,89.8,91.6,92.3,90.4,91,92.6,89.7,90.5,91.9,
    93.2,94.5,95.4,92.6,94.2,95,93.6,92.4,94.8,95.7,93.9,92.8,94.6,95.3,93.4,94,95.6,92.7,93.5,94.9,
    97.4,98.5,99.4,96.6,98.2,99,97.6,96.4,98.8,99.7,97.9,96.8,98.6,99.3,97.4,98,99.6,96.7,97.5,98.9,
    37,36,33,34,31,30,32,33,30.5,34,33,36,38,40,40,35,31.5,29,31,35,
    44,47,43,48,42,46,49,44,47,43,45,48,42,46,49,45,47,43,48,44,
    51,54,57,52,55,50,53,56,58,51,54,52,57,55,53,56,50,58,51,54,
    60,63,65,59,62,66,61,64,58,63,60,65,62,59,61,64,60,63,66,58,
    67,70,73,68,71,74,66,69,72,67,70,73,68,71,66,69,72,74,67,70,
    75,78,81,76,79,82,74,77,80,75,78,81,76,79,82,77,80,75,78,81,
    83,86,89,84,87,90,82,85,88,83,86,89,84,87,90,85,88,83,86,89,
    92,95,90,93,97,91,94,98,92,96,91,99,95,94,92,96,93,100,90,97,
    46,60,55,66,50,63,48,70,58,65,42,50,60,55,65,60,62,70,75,80,
    55,60,65,70,75,62,68,58,64,72,78,66,60,70,74,62,58,68,65,80,
]

# diagonal histograms: bin centres and heights
temp_bins = [-19.1,-17.4,-15.7,-14,-12.3,-10.6,-8.9,-7.2,-5.4,-3.7,-2,-0.3,1.4,3.1,4.8,6.6,8.3,10,11.7,13.4,15.1,16.8,18.6,20.3,22,23.7,25.4,27.1,28.8,30.6]
temp_counts = [2,2,2,5,9,12,18,24,27,36,42,48,48,51,69,48,48,42,45,45,51,54,57,66,63,60,39,21,9,3]
wind_bins = [0.11,0.34,0.56,0.79,1.01,1.24,1.46,1.69,1.91,2.14,2.36,2.59,2.81,3.04,3.26,3.49,3.71,3.94,4.16,4.39,4.61,4.84,5.06,5.29,5.51,5.74,5.96,6.19,6.41,6.64,6.86,7.09,7.31,7.54,7.76,7.99,8.5,9,9.8,10.4]
wind_counts = [1,8,16,20,26,33,41,41,46,57,51,60,46,53,36,45,51,38,41,33,30,32,24,24,15,18,12,11,9,6,9,6,3,5,3,2,1,1,1,1]
precip_bins = [0.3,0.95,1.6,2.4,5.6,6.3,7,7.7,8.4,9.1,10.7,12,13.8]
precip_counts = [50,13,13,6,3,3,3,3,3,3,3,3,2]
hum_bins = [25.5,26.5,27.5,28.5,29.5,30.5,31.5,32.5,33.5,34.5,35.5,36.5,37.5,38.5,39.5,40.5,41.5,42.5,43.5,44.5,45.5,46.5,47.5,48.5,49.5,50.5,51.5,52.5,53.5,54.5,55.5,56.5,57.5,58.5,59.5,60.5,61.5,62.5,63.5,64.5,65.5,66.5,67.5,68.5,69.5,70.5,71.5,72.5,73.5,74.5,75.5,76.5,77.5,78.5,79.5,80.5,81.5,82.5,83.5,84.5,85.5,86.5,87.5,88.5,89.5,90.5,91.5,92.5,93.5,94.5,95.5,96.5,97.5,98.5,99.5]
hum_counts = [1,1,1,1,1,3,3,3,3,3,6,6,6,6,6,9,9,9,9,9,12,14,17,18,21,25,25,25,30,32,34,34,42,42,42,44,46,54,54,54,63,64,59,52,52,55,55,47,46,46,46,43,43,41,39,35,33,32,32,29,26,23,21,19,15,13,12,10,8,6,5,4,3,3,2]

names = ["averagetemperature", "averagewindspeed", "precipitation", "humidity"]
series = [temperature, windspeed, precipitation, humidity]
bins = [temp_bins, wind_bins, precip_bins, hum_bins]
counts = [temp_counts, wind_counts, precip_counts, hum_counts]
bin_widths = [1.716, 0.226, 0.65, 1.0]
edge_widths = [1, 0.7, 0, 0.7]

assert len(temperature) == len(windspeed) == len(precipitation) == len(humidity), [len(s) for s in series]

x_ranges = [[-24.3, 34.1], [-0.54, 11.15], [-6, 125.5], [20.9, 104]]
y_ranges = [[-24.0, 33.7], [-0.53, 11.1], [-6, 124.7], [21, 103.7]]
x_ticks = [[-20, 0, 20], [0, 2.5, 5, 7.5, 10], [0, 50, 100], [40, 60, 80, 100]]
x_ticktext = [["\u221220", "0", "20"], ["0.0", "2.5", "5.0", "7.5", "10.0"], ["0", "50", "100"], ["40", "60", "80", "100"]]
y_ticks = [[-20, -10, 0, 10, 20, 30], [0, 2, 4, 6, 8, 10], [0, 20, 40, 60, 80, 100, 120], [40, 60, 80, 100]]

W, H = 985, 986
col_left = [69.3, 297.7, 526.7, 755.3]
col_right = [286.7, 515, 743.7, 972.7]
row_top = [10, 244, 477, 711]
row_bottom = [232.3, 465.5, 699.3, 933]

font = dict(family="DejaVu Sans", size=13.9, color="black")
fig = go.Figure()
layout = {}


def axis_id(letter, n):
    return letter if n == 1 else f"{letter}{n}"


for r in range(4):
    for c in range(4):
        n = r * 4 + c + 1
        xa, ya = axis_id("x", n), axis_id("y", n)
        y_domain = [1 - row_bottom[r] / H, 1 - row_top[r] / H]
        layout[f"xaxis{n}"] = dict(
            domain=[col_left[c] / W, col_right[c] / W], anchor=ya, range=x_ranges[c],
            tickvals=x_ticks[c], ticktext=x_ticktext[c],
            showticklabels=r == 3, title=dict(text=names[c] if r == 3 else "", standoff=4, font=font),
            showgrid=False, zeroline=False, showline=True, linecolor="black", linewidth=1.1,
            ticks="outside", ticklen=5, tickwidth=1.1, tickcolor="black", tickfont=font,
        )
        layout[f"yaxis{n}"] = dict(
            domain=y_domain, anchor=xa, range=y_ranges[r],
            tickvals=y_ticks[r],
            showticklabels=c == 0, title=dict(text=names[r] if c == 0 else "", standoff=6, font=font),
            showgrid=False, zeroline=False, showline=True, linecolor="black", linewidth=1.1,
            ticks="outside", ticklen=5, tickwidth=1.1, tickcolor="black", tickfont=font,
        )
        if r == c:
            # empty trace keeps the panel's own axes alive, the bars go on a hidden twin y axis
            fig.add_trace(go.Scatter(x=[None], y=[None], mode="markers", xaxis=xa, yaxis=ya, showlegend=False))
            extra = 17 + r
            layout[f"yaxis{extra}"] = dict(domain=y_domain, range=[0, 666], visible=False, anchor=xa)
            fig.add_trace(go.Bar(
                x=bins[c], y=counts[c], width=bin_widths[c], xaxis=xa, yaxis=f"y{extra}",
                marker=dict(color="rgba(31,119,180,0.75)",
                            line=dict(color="rgba(0,0,0,0.7)", width=edge_widths[c])),
                showlegend=False,
            ))
        else:
            fig.add_trace(go.Scatter(
                x=series[c], y=series[r], mode="markers", xaxis=xa, yaxis=ya,
                marker=dict(size=8.3, color="#1f77b4", line=dict(color="white", width=0.7)),
                showlegend=False,
            ))

fig.update_layout(
    width=W, height=H, margin=dict(l=0, r=0, t=0, b=0), autosize=False,
    plot_bgcolor="white", paper_bgcolor="white", font=font, showlegend=False, bargap=0,
    **layout,
)

fig.write_html("out.html", config=dict(displayModeBar=False), post_script="document.body.style.margin='0';")
